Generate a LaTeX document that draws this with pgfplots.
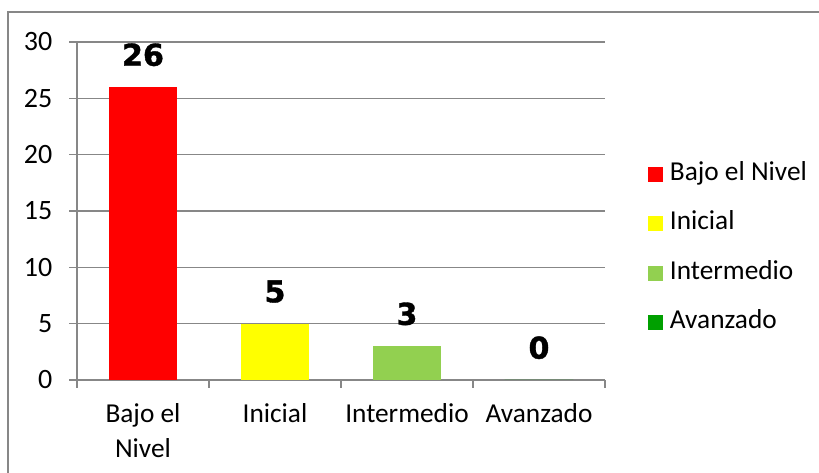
\documentclass[border=0pt]{standalone}
\usepackage{pgfplots}
\pgfplotsset{compat=1.18}
\usepackage{fontspec}
\setmainfont{Carlito}
\newfontfamily\boldlab[BoldFeatures={FakeBold=1.2}]{DejaVu Sans}
\definecolor{gridc}{HTML}{878787}
\definecolor{cRed}{HTML}{FF0000}
\definecolor{cYel}{HTML}{FFFF00}
\definecolor{cLgr}{HTML}{92D050}
\definecolor{cGrn}{HTML}{00A000}
\pgfplotsset{
  sq/.style={legend image code/.code={\fill[##1] (0pt,-5.625pt) rectangle (11.25pt,5.625pt);}},
}
\begin{document}
\begin{tikzpicture}
\useasboundingbox (0,0) rectangle (614.25pt,354.75pt);
\draw[gridc, line width=1.1pt] (6pt,0pt) -- (6pt,345.75pt) -- (614.25pt,345.75pt);
\begin{axis}[
  at={(57.75pt,69.75pt)}, anchor=south west,
  scale only axis, width=396pt, height=253.5pt,
  ybar, bar width=0.52, bar shift=0pt,
  xmin=-0.5, xmax=3.5, ymin=0, ymax=30,
  ytick={0,5,...,30},
  ymajorgrids, grid style={gridc, line width=1pt},
  axis lines*=left, axis line style={gridc, line width=1pt},
  tick align=outside, major tick length=6pt, tick style={gridc, line width=1pt},
  xtick={-0.5,0.5,1.5,2.5,3.5}, xticklabels={},
  extra x ticks={0,1,2,3},
  extra x tick labels={Bajo el\\Nivel,Inicial,Intermedio,Avanzado},
  extra x tick style={major tick length=0pt, tick style={draw=none}},
  xticklabel style={align=center, font=\fontsize{20.5}{26}\selectfont, anchor=north, yshift=-14pt},
  yticklabel style={font=\fontsize{21}{21}\selectfont, xshift=-9pt},
  /pgf/number format/assume math mode=true,
  nodes near coords,
  nodes near coords style={font=\boldlab\bfseries\fontsize{22.6}{22.6}\selectfont, anchor=base, yshift=16pt, text=black},
  legend style={draw=none, fill=none, at={(1.0814,0.389)}, anchor=west,
    font=\fontsize{20.5}{20.5}\selectfont, row sep=16pt, inner sep=0pt,
    nodes={inner sep=2pt, text height=13pt, text depth=4pt},
    /tikz/every odd column/.append style={column sep=3pt}},
  legend cell align=left,
]
\addplot[sq, fill=cRed, draw=none] coordinates {(0,26)};
\addplot[sq, fill=cYel, draw=none] coordinates {(1,5)};
\addplot[sq, fill=cLgr, draw=none] coordinates {(2,3)};
\addplot[sq, fill=cGrn, draw=none] coordinates {(3,0)};
\legend{Bajo el Nivel, Inicial, Intermedio, Avanzado}
\end{axis}
\end{tikzpicture}
\end{document}
